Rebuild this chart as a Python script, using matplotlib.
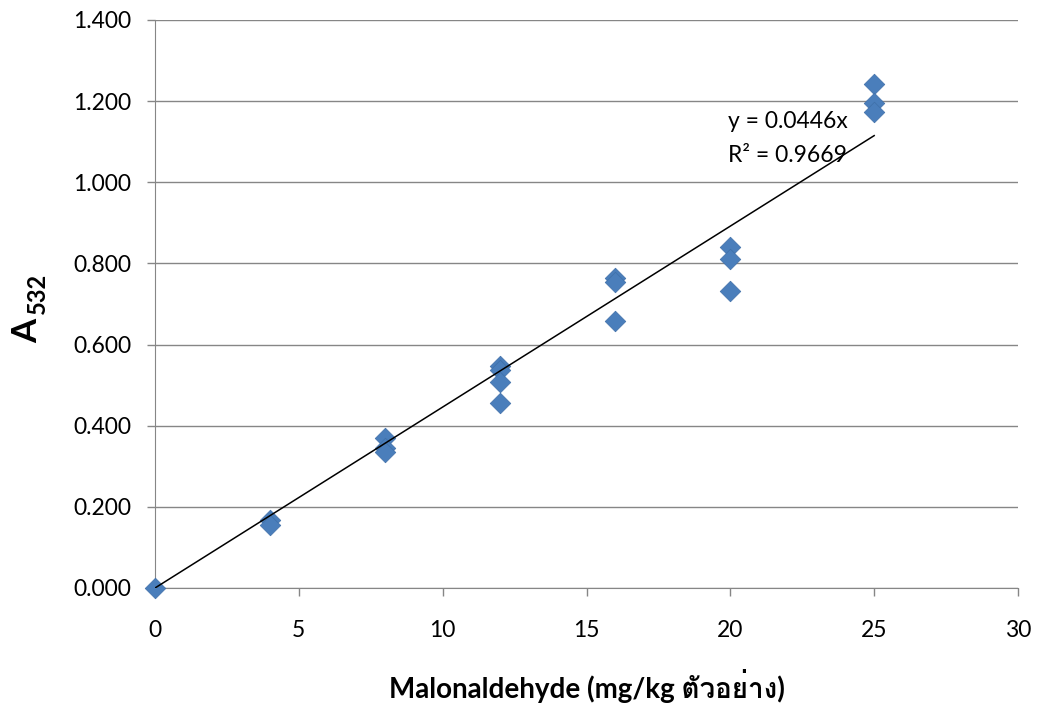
import matplotlib
matplotlib.use('Agg')
import matplotlib.pyplot as plt
from matplotlib import font_manager
from matplotlib.ft2font import FT2Font
import numpy as np

# data
x = [0, 4, 4, 8, 8, 8, 12, 12, 12, 12, 16, 16, 16, 20, 20, 20, 25, 25, 25]
y = [0.000, 0.168, 0.155, 0.370, 0.345, 0.335, 0.548, 0.537, 0.508, 0.457,
     0.763, 0.755, 0.659, 0.841, 0.810, 0.733, 1.242, 1.195, 1.174]
slope = 0.0446
r2 = 0.9669
xticks = [0, 5, 10, 15, 20, 25, 30]
yticks = [0.0, 0.2, 0.4, 0.6, 0.8, 1.0, 1.2, 1.4]

# look for any installed font that has Thai letters
thai = []
for f in font_manager.fontManager.ttflist:
    try:
        cm = FT2Font(f.fname).get_charmap()
    except Exception:
        continue
    if 0x0E15 in cm and 0x0E07 in cm and f.name not in thai:
        thai.append(f.name)

plt.rcParams['font.family'] = ['Lato', 'DejaVu Sans'] + thai

W, H = 1041, 714
fig = plt.figure(figsize=(W/100, H/100), dpi=100)
ax = fig.add_axes([155/W, 1 - 588/H, (1018-155)/W, (588-20)/H])

ax.scatter(x, y, marker='D', s=110, color='#4a7ebb', edgecolors='#3f6fa8', linewidths=0.5,
           zorder=3, clip_on=False)
xl = np.array([0, 25])
ax.plot(xl, slope*xl, color='black', lw=1.1, zorder=4)

ax.set_xlim(0, 30)
ax.set_ylim(0, 1.4)
ax.set_xticks(xticks)
ax.set_yticks(yticks)
ax.set_yticklabels(['%.3f' % v for v in yticks])
ax.tick_params(labelsize=16.5, color='#868686', length=6, width=1)
ax.tick_params(axis='y', pad=11)
ax.tick_params(axis='x', pad=17)
ax.yaxis.grid(True, color='#868686', lw=1)
ax.set_axisbelow(True)
for s in ['top', 'right']:
    ax.spines[s].set_visible(False)
for s in ['left', 'bottom']:
    ax.spines[s].set_color('#868686')

ax.text(19.92, 1.149, 'y = 0.0446x', fontsize=16.5, va='center')
ax.text(19.92, 1.067, 'R² = %.4f' % r2, fontsize=16.5, va='center')

ax.set_xlabel('Malonaldehyde (mg/kg ตัวอย่าง)', fontsize=20, fontweight='bold', va='top')
ax.xaxis.set_label_coords(0.5, -0.143)

# y label A with bold subscript 532, drawn as two rotated pieces
fig.text(37.5/W, 1 - 343/H, 'A', fontsize=25, fontweight='bold', rotation=90,
         rotation_mode='anchor', ha='left', va='baseline')
fig.text(45/W, 1 - 314/H, '532', fontsize=17, fontweight='bold', rotation=90,
         rotation_mode='anchor', ha='left', va='baseline')

plt.savefig('out.png', facecolor='white')
